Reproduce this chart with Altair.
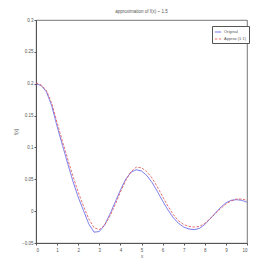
import altair as alt
import pandas as pd

x_vals = [0, 0.25, 0.5, 0.75, 1.0, 1.25, 1.5, 1.75, 2.0, 2.25, 2.5, 2.75, 3.0, 3.25, 3.5, 3.75,
          4.0, 4.25, 4.5, 4.75, 5.0, 5.25, 5.5, 5.75, 6.0, 6.25, 6.5, 6.75, 7.0, 7.25, 7.5, 7.75,
          8.0, 8.25, 8.5, 8.75, 9.0, 9.25, 9.5, 9.75, 10.0]
original = [0.200, 0.197, 0.187, 0.165, 0.133, 0.104, 0.075, 0.047, 0.022, 0.001, -0.020, -0.033,
            -0.032, -0.022, -0.005, 0.014, 0.033, 0.050, 0.061, 0.065, 0.063, 0.056, 0.045, 0.031,
            0.016, 0.002, -0.010, -0.019, -0.025, -0.028, -0.029, -0.027, -0.021, -0.012, -0.003,
            0.006, 0.013, 0.017, 0.018, 0.017, 0.014]
approx = [0.201, 0.198, 0.189, 0.169, 0.139, 0.110, 0.082, 0.055, 0.030, 0.008, -0.012, -0.026,
          -0.029, -0.022, -0.008, 0.010, 0.030, 0.048, 0.062, 0.069, 0.068, 0.062, 0.052, 0.038,
          0.023, 0.008, -0.005, -0.015, -0.021, -0.024, -0.025, -0.024, -0.019, -0.012, -0.004,
          0.004, 0.011, 0.016, 0.019, 0.019, 0.017]
series_names = ["Original", "Approx (1:1)"]
x_ticks = list(range(0, 11))
y_ticks = [-0.05, 0, 0.05, 0.1, 0.15, 0.2, 0.25, 0.3]

rows = []
for xv, a, b in zip(x_vals, original, approx):
    rows.append({"x": xv, "y": a, "series": series_names[0]})
    rows.append({"x": xv, "y": b, "series": series_names[1]})
df = pd.DataFrame(rows)

FONT = "Liberation Sans"
GREY = "#555555"

chart = alt.Chart(df).mark_line(strokeWidth=0.8).encode(
    x=alt.X("x:Q", title="x", scale=alt.Scale(domain=[0, 10], nice=False),
            axis=alt.Axis(values=x_ticks, grid=False, tickSize=2, labelFontSize=4.5,
                          titleFontSize=4.5, labelColor=GREY, titleColor=GREY,
                          domainColor=GREY, tickColor=GREY, labelPadding=2,
                          titlePadding=2, labelFont=FONT, titleFont=FONT, titleFontWeight="normal")),
    y=alt.Y("y:Q", title="f(x)", scale=alt.Scale(domain=[-0.05, 0.3], nice=False),
            axis=alt.Axis(values=y_ticks, format=".2~f", grid=False, tickSize=2, labelFontSize=4.5,
                          titleFontSize=4.5, labelColor=GREY, titleColor=GREY,
                          domainColor=GREY, tickColor=GREY, labelPadding=1,
                          titlePadding=3, labelFont=FONT, titleFont=FONT, titleFontWeight="normal")),
    color=alt.Color("series:N", sort=series_names,
                    scale=alt.Scale(domain=series_names, range=["#4d4de6", "#e04d4d"]),
                    legend=alt.Legend(title=None, orient="none", legendX=176, legendY=6,
                                      symbolType="stroke", symbolSize=40, symbolStrokeWidth=0.8,
                                      labelFontSize=4, labelFont=FONT, labelColor=GREY,
                                      strokeColor=GREY, padding=2, rowPadding=1,
                                      fillColor="white", labelLimit=60, labelOffset=2)),
    strokeDash=alt.StrokeDash("series:N", sort=series_names,
                              scale=alt.Scale(domain=series_names, range=[[1, 0], [2.5, 1.5]]),
                              legend=None),
).properties(
    width=211, height=223,
    title=alt.TitleParams("approximation of f(x) ~ 1.5", fontSize=4.5, font=FONT,
                          color=GREY, fontWeight="normal", offset=4),
    autosize=alt.AutoSizeParams(type="none"),
    padding={"left": 28, "top": 12, "right": 10, "bottom": 20},
).configure_view(stroke=GREY, strokeWidth=0.8)

chart.save("out.html", embed_options={"renderer": "svg", "actions": False})
